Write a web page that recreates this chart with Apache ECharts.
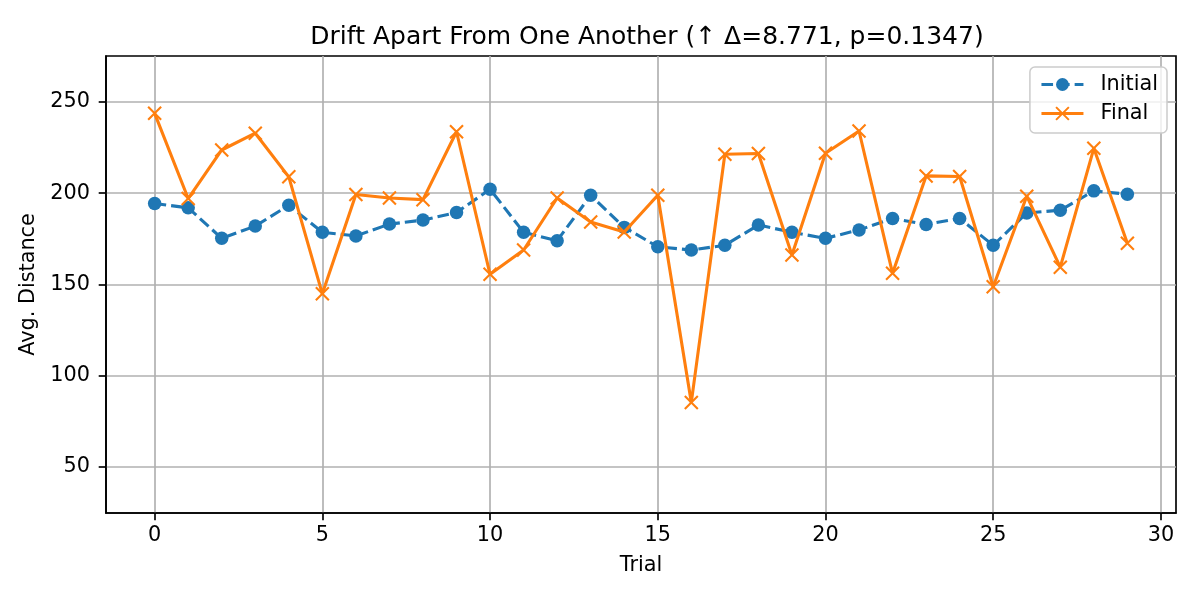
<!DOCTYPE html>
<html><head><meta charset="utf-8">
<script src="https://cdn.jsdelivr.net/npm/echarts@6/dist/echarts.min.js"></script>
<style>html,body{margin:0;padding:0;background:#fff}#c{width:1200px;height:600px}</style>
</head><body><div id="c"></div>
<script>
const trials = Array.from({length: 30}, (_, i) => i);
const initialVals = [194.4,192.0,175.3,182.0,193.4,178.6,176.6,183.1,185.3,189.4,
  202.2,178.6,174.0,198.9,181.3,170.7,168.9,171.5,182.6,178.6,
  175.3,179.9,186.2,182.9,186.2,171.5,189.2,190.7,201.3,199.5];
const finalVals = [243.8,197.1,223.7,232.9,209.0,144.9,199.3,197.4,196.5,233.7,
  155.6,168.9,197.4,184.2,178.8,198.9,85.4,221.4,221.8,166.2,
  221.9,234.1,156.1,209.5,209.2,148.8,198.4,159.5,224.6,172.6];
const xTicks = [0,5,10,15,20,25,30];
const yTicks = [50,100,150,200,250];
const titleText = 'Drift Apart From One Another (\u2191 \u0394=8.771, p=0.1347)';

const font = 'DejaVu Sans';
const xMark = 'path://M0,0L10,10M10,0L0,10';
const chart = echarts.init(document.getElementById('c'));
chart.setOption({
  animation: false,
  textStyle: {fontFamily: font},
  title: {text: titleText, left: 642, textAlign: 'center', top: 20,
    textStyle: {fontFamily: font, fontSize: 25, fontWeight: 'normal', color: '#000'}},
  grid: {left: 106, right: 24, top: 56, bottom: 87, show: true, borderColor: '#000', borderWidth: 1.67, backgroundColor: 'transparent'},
  legend: {
    orient: 'vertical', right: 33, top: 67, align: 'left',
    itemWidth: 42, itemHeight: 16, itemGap: 8,
    padding: [7, 9, 9, 10],
    backgroundColor: 'rgba(255,255,255,0.8)', borderColor: '#cccccc', borderWidth: 1.5, borderRadius: 5,
    textStyle: {fontFamily: font, fontSize: 20.8, color: '#000', padding: [0, 0, 0, 12]},
    lineStyle: {width: 3.1},
    data: ['Initial', 'Final']
  },
  xAxis: {
    type: 'value', min: -1.45, max: 30.45,
    name: 'Trial', nameLocation: 'middle', nameGap: 42,
    nameTextStyle: {fontFamily: font, fontSize: 20.8, color: '#000'},
    axisLine: {show: true, onZero: false, lineStyle: {color: '#000', width: 1.67}},
    axisTick: {show: true, customValues: xTicks, length: 7.3, lineStyle: {color: '#000', width: 1.67}},
    axisLabel: {customValues: xTicks, margin: 12, fontFamily: font, fontSize: 20.8, color: '#000'},
    splitLine: {show: true, lineStyle: {color: '#b0b0b0', width: 1.67}}
  },
  yAxis: {
    type: 'value', min: 24.8, max: 275.2,
    name: 'Avg. Distance', nameLocation: 'middle', nameGap: 59,
    nameTextStyle: {fontFamily: font, fontSize: 20.8, color: '#000'},
    axisLine: {show: true, onZero: false, lineStyle: {color: '#000', width: 1.67}},
    axisTick: {show: true, customValues: yTicks, length: 7.3, lineStyle: {color: '#000', width: 1.67}},
    axisLabel: {customValues: yTicks, margin: 16, fontFamily: font, fontSize: 20.8, color: '#000'},
    splitLine: {show: true, lineStyle: {color: '#b0b0b0', width: 1.67}}
  },
  series: [
    {name: 'Initial', type: 'line', data: trials.map((t, i) => [t, initialVals[i]]),
      symbol: 'circle', symbolSize: 13.5, showAllSymbol: true,
      lineStyle: {color: '#1f77b4', width: 3.1, type: [11.6, 5]},
      itemStyle: {color: '#1f77b4', borderWidth: 0}, z: 2},
    {name: 'Final', type: 'line', data: trials.map((t, i) => [t, finalVals[i]]),
      symbol: xMark, symbolSize: 13, showAllSymbol: true,
      lineStyle: {color: '#ff7f0e', width: 3.1},
      itemStyle: {color: '#ff7f0e', borderColor: '#ff7f0e', borderWidth: 2.1}, z: 3}
  ]
});
</script></body></html>
